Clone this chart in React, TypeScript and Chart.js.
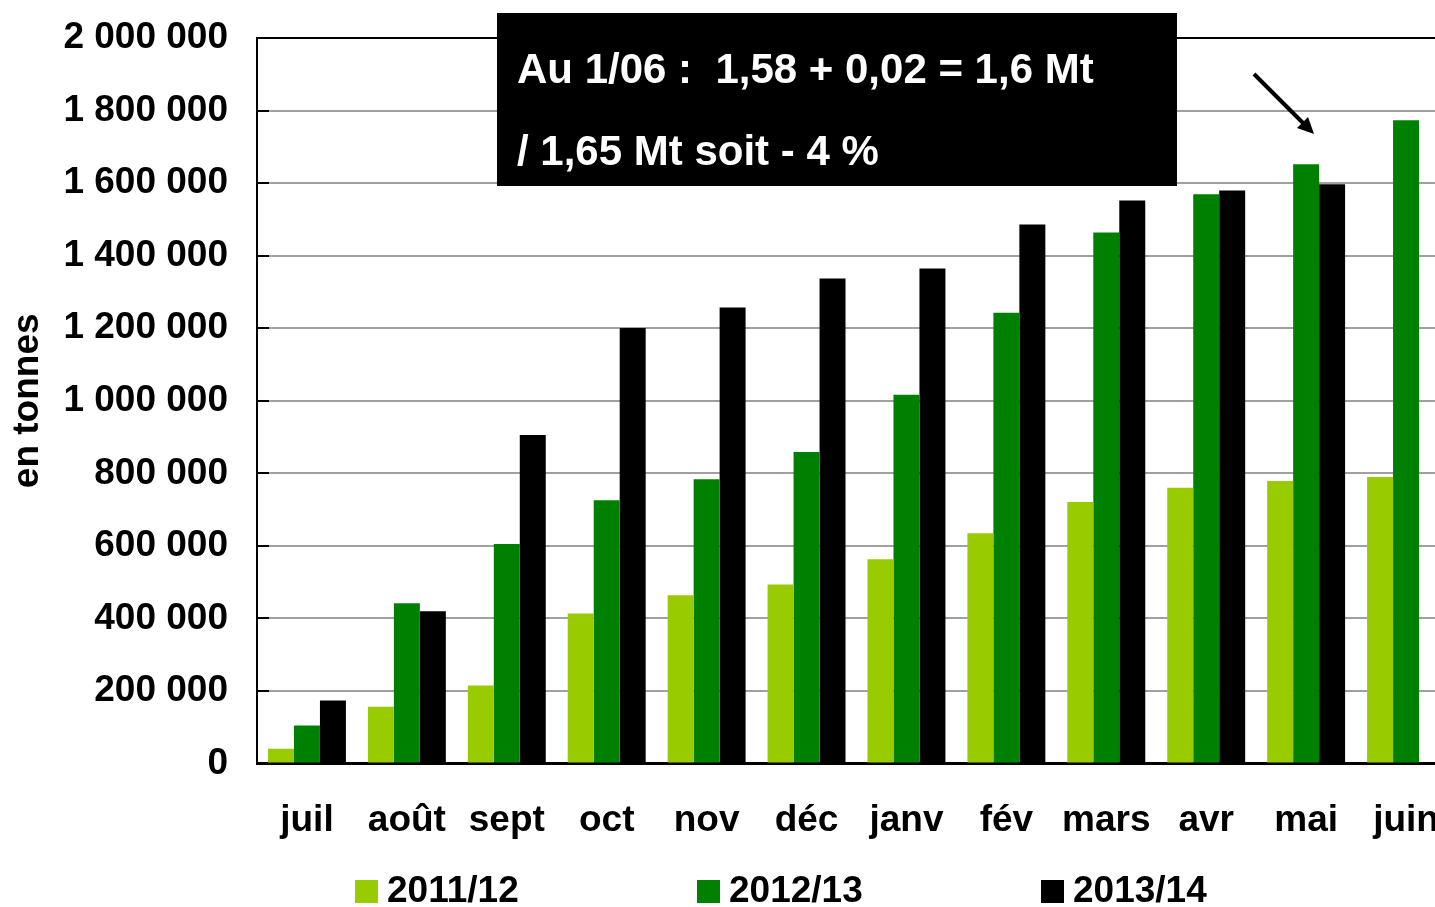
import React, { useEffect, useRef } from "react";
import { Chart, registerables } from "chart.js";

Chart.register(...registerables);

const categories = ["juil", "août", "sept", "oct", "nov", "déc", "janv", "fév", "mars", "avr", "mai", "juin"];
const series2011 = [41000, 157000, 215000, 414000, 464000, 494000, 563000, 635000, 721000, 760000, 779000, 790000];
const series2012 = [105000, 442000, 605000, 726000, 784000, 859000, 1017000, 1243000, 1464000, 1569000, 1652000, 1773000];
const series2013 = [174000, 420000, 906000, 1201000, 1257000, 1337000, 1365000, 1486000, 1552000, 1580000, 1597000, null];
const seriesLabels = ["2011/12", "2012/13", "2013/14"];
const seriesColors = ["#99CC00", "#008000", "#000000"];
const yMin = 0;
const yMax = 2000000;
const yStep = 200000;
const yTitle = "en tonnes";
const noteLines = ["Au 1/06 :  1,58 + 0,02 = 1,6 Mt", "/ 1,65 Mt soit - 4 %"];

const FONT = "'Liberation Sans', Arial, sans-serif";

const fmt = (v: number) => String(v).replace(/\B(?=(\d{3})+(?!\d))/g, " ");

const decorPlugin = {
  id: "decor",
  afterDraw(chart: any) {
    const ctx = chart.ctx;
    const area = chart.chartArea;
    const y = chart.scales.y;
    ctx.save();
    // inward tick marks on y axis
    ctx.strokeStyle = "#000";
    ctx.lineWidth = 2;
    y.ticks.forEach((t: any) => {
      const py = Math.round(y.getPixelForValue(t.value));
      ctx.beginPath();
      ctx.moveTo(area.left, py);
      ctx.lineTo(area.left + 12, py);
      ctx.stroke();
    });
    // annotation box
    ctx.fillStyle = "#000";
    ctx.fillRect(497, 13, 680, 173);
    ctx.fillStyle = "#fff";
    ctx.font = `bold 42px ${FONT}`;
    ctx.textBaseline = "middle";
    ctx.textAlign = "left";
    ctx.fillText(noteLines[0], 517, 71);
    ctx.fillText(noteLines[1], 517, 153);
    // arrow
    ctx.strokeStyle = "#000";
    ctx.fillStyle = "#000";
    ctx.lineWidth = 4;
    const x1 = 1254, y1 = 74, x2 = 1314, y2 = 134;
    const ang = Math.atan2(y2 - y1, x2 - x1);
    ctx.beginPath();
    ctx.moveTo(x1, y1);
    ctx.lineTo(x2 - 12 * Math.cos(ang), y2 - 12 * Math.sin(ang));
    ctx.stroke();
    ctx.beginPath();
    ctx.moveTo(x2, y2);
    ctx.lineTo(x2 - 18 * Math.cos(ang - 0.45), y2 - 18 * Math.sin(ang - 0.45));
    ctx.lineTo(x2 - 18 * Math.cos(ang + 0.45), y2 - 18 * Math.sin(ang + 0.45));
    ctx.closePath();
    ctx.fill();
    // legend
    const legendX = [355, 697, 1041];
    ctx.font = `bold 37px ${FONT}`;
    ctx.textBaseline = "middle";
    chart.data.datasets.forEach((ds: any, i: number) => {
      ctx.fillStyle = ds.backgroundColor;
      ctx.fillRect(legendX[i], 880, 23, 23);
      ctx.fillStyle = "#000";
      ctx.fillText(ds.label, legendX[i] + 32, 892);
    });
    ctx.restore();
  },
};

export default function App() {
  const ref = useRef<HTMLCanvasElement | null>(null);
  useEffect(() => {
    if (!ref.current) return;
    const chart = new Chart(ref.current, {
      type: "bar",
      data: {
        labels: categories,
        datasets: [series2011, series2012, series2013].map((d, i) => ({
          label: seriesLabels[i],
          data: d as any,
          backgroundColor: seriesColors[i],
          borderWidth: 0,
          categoryPercentage: 0.78,
          barPercentage: 1.0,
        })),
      },
      options: {
        responsive: false,
        animation: false,
        layout: { padding: { left: 6, top: 38, right: 0, bottom: 29 } },
        plugins: { legend: { display: false }, tooltip: { enabled: false } },
        scales: {
          x: {
            afterFit: (s: any) => { s.paddingLeft = 0; s.paddingRight = 0; },
            grid: { display: false, drawTicks: false },
            border: { color: "#000", width: 3 },
            ticks: { color: "#000", font: { family: FONT, size: 37, weight: "bold" }, padding: 35, maxRotation: 0, autoSkip: false },
          },
          y: {
            min: yMin,
            max: yMax,
            afterFit: (s: any) => { s.width = 251; s.paddingTop = 0; s.paddingBottom = 0; },
            grid: {
              drawTicks: false,
              color: (c: any) => (c.tick && c.tick.value === yMax ? "#000" : "#a0a0a0"),
              lineWidth: 2,
            },
            border: { color: "#000", width: 2 },
            ticks: {
              stepSize: yStep,
              color: "#000",
              padding: 29,
              font: { family: FONT, size: 37, weight: "bold" },
              callback: (v: any) => fmt(Number(v)),
            },
            title: { display: true, text: yTitle, color: "#000", font: { family: FONT, size: 37, weight: "bold" }, padding: 0 },
          },
        },
      },
      plugins: [decorPlugin],
    });
    return () => chart.destroy();
  }, []);
  return (
    <div style={{ position: "absolute", left: 0, top: 0, width: 1435, height: 907, overflow: "hidden", background: "#fff" }}>
      <canvas ref={ref} width={1456} height={907} style={{ display: "block" }} />
    </div>
  );
}
